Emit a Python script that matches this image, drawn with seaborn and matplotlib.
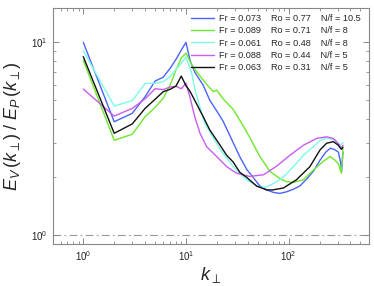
import numpy as np
import pandas as pd
import matplotlib
matplotlib.use("Agg")
import matplotlib.pyplot as plt
from matplotlib.ticker import NullFormatter
import seaborn as sns

# ---------------------------------------------------------------------------
# data (k_perp, E_V/E_P)
runs = ["Fr = 0.073", "Fr = 0.089", "Fr = 0.061", "Fr = 0.088", "Fr = 0.063"]
ro = ["Ro = 0.77", "Ro = 0.71", "Ro = 0.48", "Ro = 0.44", "Ro = 0.31"]
nf = ["N/f = 10.5", "N/f = 8", "N/f = 8", "N/f = 5", "N/f = 5"]

k_blue = [1, 2, 3, 4, 5, 6, 7, 8, 9, 10, 11, 12.2, 14.7, 17.1, 20, 23, 26, 29,
          33.5, 39, 45, 52.5, 61, 71, 82, 95, 110, 128, 149, 174, 202, 230,
          255, 280, 305, 320, 328, 338]
v_blue = [10.0, 3.88, 4.29, 5.23, 6.3, 6.6, 7.33, 8.17, 9.12, 10.0, 8.0, 7.0,
          6.0, 5.0, 4.4, 3.9, 3.4, 3.0, 2.55, 2.2, 2.0, 1.8, 1.72, 1.67, 1.65,
          1.68, 1.73, 1.8, 1.95, 2.15, 2.45, 2.7, 2.83, 2.78, 2.7, 2.4, 2.15,
          2.7]

k_green = [1, 2, 3, 4, 5, 6, 7, 8, 9, 10, 11.8, 13.7, 15.9, 18.5, 19.9, 23,
           28.8, 36, 42, 52.5, 66, 82, 95, 110, 139, 174, 218, 253, 281, 305,
           316, 326, 338]
v_green = [8.07, 3.11, 3.34, 4.12, 4.6, 5.13, 6.0, 7.2, 8.3, 8.8, 7.4, 6.7,
           6.05, 5.55, 5.66, 5.1, 4.5, 3.7, 3.2, 2.56, 2.14, 1.97, 1.9, 1.88,
           1.94, 2.18, 2.42, 2.56, 2.46, 2.35, 2.2, 2.1, 2.82]

k_cyan = [1, 2, 3, 4, 5, 6, 7, 8, 9, 10, 11.4, 12.2, 13.7, 15.3, 18.5, 21.4,
          28.8, 38.9, 52.5, 61, 70, 82, 95, 119, 139, 174, 202, 234, 281, 316,
          338]
v_cyan = [9.05, 4.68, 4.99, 6.13, 6.13, 6.26, 6.64, 7.25, 7.78, 8.4, 6.9,
          5.7, 4.6, 3.8, 3.2, 2.8, 2.27, 1.94, 1.77, 1.78, 1.85, 1.94, 2.08,
          2.36, 2.6, 2.88, 3.1, 3.2, 3.12, 2.94, 3.02]

k_mag = [1, 2, 3, 4, 5, 6, 7, 8, 9, 10, 10.9, 12.2, 13.7, 15.9, 19.9, 24.9,
         31, 41.7, 56.8, 76, 103, 139, 188, 234, 272, 303, 326, 338]
v_mag = [5.73, 4.15, 4.55, 5.1, 5.75, 5.69, 5.87, 5.92, 5.75, 6.15, 5.23, 4.1,
         3.38, 2.88, 2.56, 2.27, 2.1, 2.02, 2.06, 2.28, 2.6, 2.93, 3.18, 3.24,
         3.18, 3.0, 2.82, 2.93]

k_black = [1, 2, 3, 4, 5, 6, 7, 8, 9, 10, 10.9, 12.7, 14.7, 17.1, 21.4, 24.9,
           28.8, 33.5, 38.9, 48.8, 61, 70, 89, 119, 161, 202, 234, 272, 303,
           326, 338]
v_black = [8.43, 3.38, 3.78, 4.55, 5.07, 5.55, 5.71, 5.94, 6.69, 5.96, 5.6,
           4.8, 4.12, 3.51, 2.94, 2.6, 2.4, 2.12, 2.0, 1.8, 1.72, 1.72, 1.76,
           1.94, 2.27, 2.77, 3.0, 3.06, 2.94, 2.79, 2.86]

colors = ["#4a63ff", "#6ee82a", "#7dfbe6", "#c95cf0", "#111111"]
# ---------------------------------------------------------------------------

ks = [k_blue, k_green, k_cyan, k_mag, k_black]
vs = [v_blue, v_green, v_cyan, v_mag, v_black]
df = pd.concat([pd.DataFrame({"k": k, "ratio": v, "run": r})
                for r, k, v in zip(runs, ks, vs)], ignore_index=True)

sns.set_style("ticks")
plt.rcParams["font.family"] = ["Liberation Sans", "DejaVu Sans"]
plt.rcParams["mathtext.fontset"] = "custom"
plt.rcParams["mathtext.rm"] = "Liberation Sans"
plt.rcParams["mathtext.it"] = "Liberation Sans:italic"
plt.rcParams["mathtext.bf"] = "Liberation Sans:bold"

fig = plt.figure(figsize=(3.74, 2.86), dpi=100)
ax = fig.add_axes([53 / 374, 1 - 244 / 286, 316 / 374, 236 / 286])

sns.lineplot(data=df, x="k", y="ratio", hue="run", hue_order=runs,
             palette=colors, estimator=None, sort=False, lw=1.0, ax=ax,
             legend=False)
ax.axhline(1, color="#999999", lw=0.8, ls=(0, (7, 3, 1.5, 3)), zorder=0)

ax.set_xscale("log")
ax.set_yscale("log")
ax.set_xlim(0.507, 606)
ax.set_ylim(0.902, 15.07)
ax.yaxis.set_minor_formatter(NullFormatter())
ax.xaxis.set_minor_formatter(NullFormatter())

ax.tick_params(which="both", direction="in", top=True, right=True,
               color="#888888", labelsize=7, labelcolor="#222222", pad=4)
ax.tick_params(which="major", length=4, width=0.7)
ax.tick_params(which="minor", length=2.5, width=0.6)
for s in ax.spines.values():
    s.set_color("#888888")
    s.set_linewidth(0.8)

ax.set_xlabel(r"$k_\perp$", fontsize=13, labelpad=1)
ax.set_ylabel(r"$E_V\,(k_\perp)\;/\;E_P\,(k_\perp)$", fontsize=13, labelpad=6)

labels = [f"{r}    {o}    {n}" for r, o, n in zip(runs, ro, nf)]
handles = ax.get_lines()[:5]
ax.legend(handles, labels, loc="upper left", bbox_to_anchor=(191 / 374, 1 - 14 / 286),
          bbox_transform=fig.transFigure, frameon=False, fontsize=6.6,
          handlelength=2.5, handletextpad=0.55, labelspacing=0.36,
          borderpad=0, borderaxespad=0)

fig.savefig("out.png", dpi=100)
